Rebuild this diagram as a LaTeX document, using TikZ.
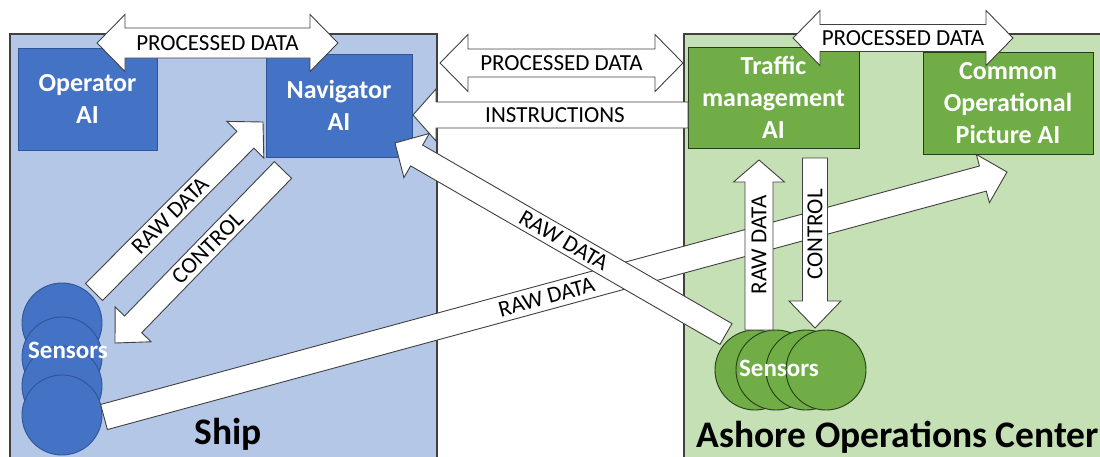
\documentclass[tikz,border=0pt]{standalone}
\usepackage{fontspec}
\setmainfont{Carlito}
\usetikzlibrary{calc,positioning}

\definecolor{shipbg}{HTML}{B4C7E7}
\definecolor{shipai}{HTML}{4472C4}
\definecolor{shipedge}{HTML}{2F5597}
\definecolor{shorebg}{HTML}{C5E0B4}
\definecolor{shoreai}{HTML}{70AD47}
\definecolor{shoreedge}{HTML}{263D17}
\definecolor{outline}{HTML}{404040}

\tikzstyle{region} = [draw=outline, line width=1.6pt, anchor=north west, inner sep=0pt]
\tikzstyle{aibox} = [draw, line width=1pt, text=white, align=center, inner sep=0pt,
  font=\bfseries\fontsize{26}{32}\selectfont]
\tikzstyle{sensor} = [circle, draw, line width=0.9pt, minimum size=80pt, inner sep=0pt]
\tikzstyle{blockarrow} = [draw=outline, fill=white, line width=0.9pt, line join=miter]
\tikzstyle{arrowtext} = [inner sep=0pt, font=\fontsize{23}{26}\selectfont]
\tikzstyle{areatext} = [anchor=base, inner sep=0pt, font=\bfseries\fontsize{37.5}{42}\selectfont]

% tail, tip, half shaft, half head, head length
\newcommand{\singlearrow}[5]{%
  \coordinate (neck) at ($(#2)!#5!(#1)$);
  \draw[blockarrow] ($(#1)!#3!90:(#2)$) -- ($(neck)!#3!90:(#2)$) -- ($(neck)!#4!90:(#2)$) -- (#2)
    -- ($(neck)!#4!-90:(#2)$) -- ($(neck)!#3!-90:(#2)$) -- ($(#1)!#3!-90:(#2)$) -- cycle;
}
\newcommand{\doublearrow}[5]{%
  \coordinate (neckA) at ($(#1)!#5!(#2)$);
  \coordinate (neckB) at ($(#2)!#5!(#1)$);
  \draw[blockarrow] (#1) -- ($(neckA)!#4!90:(#2)$) -- ($(neckA)!#3!90:(#2)$) -- ($(neckB)!#3!90:(#2)$)
    -- ($(neckB)!#4!90:(#2)$) -- (#2) -- ($(neckB)!#4!-90:(#2)$) -- ($(neckB)!#3!-90:(#2)$)
    -- ($(neckA)!#3!-90:(#2)$) -- ($(neckA)!#4!-90:(#2)$) -- cycle;
}

\begin{document}
\begin{tikzpicture}[x=1pt,y=-1pt]
    \useasboundingbox (0,0) rectangle (1100,456);
    \clip (0,0) rectangle (1100,456);
    % create the areas
    \node (ship) [region, fill=shipbg, minimum width=427pt, minimum height=460pt] at (9,33) {};
    \node (shore) [region, fill=shorebg, minimum width=460pt, minimum height=460pt] at (683,33) {};
    \node (shiplbl) [areatext] at (228,444) {Ship};
    \node (shorelbl) [areatext] at (898,447) {Ashore Operations Center};
    % create the nodes
    \node (op) [aibox, draw=shipedge, fill=shipai, minimum width=139pt, minimum height=102pt] at (87.5,99) {Operator\\AI};
    \node (nav) [aibox, draw=shipedge, fill=shipai, minimum width=146pt, minimum height=103pt] at (339,105.5) {Navigator\\AI};
    \node (tm) [aibox, draw=shoreedge, fill=shoreai, minimum width=171pt, minimum height=101pt] at (773.5,97.5) {Traffic\\management\\AI};
    \node (cop) [aibox, draw=shoreedge, fill=shoreai, minimum width=170pt, minimum height=102pt] at (1008,103) {Common\\Operational\\Picture AI};
    \foreach \i/\y in {1/323,2/357,3/386,4/415}
        \node (ss\i) [sensor, draw=shipedge, fill=shipai] at (62,\y) {};
    \node (sslbl) [arrowtext, text=white, font=\bfseries\fontsize{25}{28}\selectfont] at (68,350) {Sensors};
    \foreach \i/\x in {1/755,2/776,3/806,4/826}
        \node (as\i) [sensor, draw=shoreedge, fill=shoreai] at (\x,370) {};
    \node (aslbl) [arrowtext, text=white, font=\bfseries\fontsize{25}{28}\selectfont] at (779,368) {Sensors};
    % arrow ends
    \coordinate (pdL) at (97,43);    \coordinate (pdR) at (338,43);
    \coordinate (mdL) at (440,63);   \coordinate (mdR) at (683,63);
    \coordinate (tdL) at (793,38);   \coordinate (tdR) at (1013,38);
    \coordinate (insT) at (688,115); \coordinate (insH) at (413,115);
    \coordinate (srT) at (94,292);   \coordinate (srH) at (263,122);
    \coordinate (scT) at (283,170);  \coordinate (scH) at (115,343);
    \coordinate (lrT) at (104,417);  \coordinate (lrH) at (1007,172);
    \coordinate (arT) at (726,334);  \coordinate (arH) at (395,143);
    \coordinate (vrT) at (759,330);  \coordinate (vrH) at (759,160);
    \coordinate (vcT) at (815,158);  \coordinate (vcH) at (815,328);
    % connect the nodes
    \doublearrow{pdL}{pdR}{15pt}{28.5pt}{28pt}
    \node (pdtxt) [arrowtext] at ($(pdL)!0.5!(pdR)$) {PROCESSED DATA};
    \doublearrow{mdL}{mdR}{14pt}{28.5pt}{28pt}
    \node (mdtxt) [arrowtext] at ($(mdL)!0.5!(mdR)$) {PROCESSED DATA};
    \doublearrow{tdL}{tdR}{13.5pt}{27.5pt}{27pt}
    \node (tdtxt) [arrowtext] at ($(tdL)!0.5!(tdR)$) {PROCESSED DATA};
    \singlearrow{insT}{insH}{13pt}{26pt}{23pt}
    \node (instxt) [arrowtext] at (555,115) {INSTRUCTIONS};
    \singlearrow{srT}{srH}{12pt}{26pt}{25pt}
    \node (srtxt) [arrowtext, rotate=45] at ($(srT)!0.45!(srH)$) {RAW DATA};
    \singlearrow{scT}{scH}{12pt}{25pt}{26pt}
    \node (sctxt) [arrowtext, rotate=45] at ($(scT)!0.45!(scH)$) {CONTROL};
    \singlearrow{lrT}{lrH}{13pt}{25pt}{25pt}
    \node (lrtxt) [arrowtext, rotate=15.2] at ($(lrT)!0.49!(lrH)$) {RAW DATA};
    \singlearrow{arT}{arH}{12pt}{25.5pt}{25pt}
    \node (artxt) [arrowtext, rotate=-30] at ($(arT)!0.49!(arH)$) {RAW DATA};
    \singlearrow{vrT}{vrH}{14pt}{25.5pt}{22pt}
    \node (vrtxt) [arrowtext, rotate=90] at ($(vrT)!0.5!(vrH)$) {RAW DATA};
    \singlearrow{vcT}{vcH}{12.5pt}{26pt}{27pt}
    \node (vctxt) [arrowtext, rotate=90] at ($(vcT)!0.45!(vcH)$) {CONTROL};
\end{tikzpicture}
\end{document}
